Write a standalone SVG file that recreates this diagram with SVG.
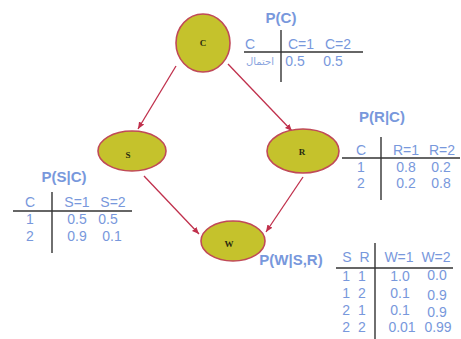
<svg xmlns="http://www.w3.org/2000/svg" width="461" height="339" viewBox="0 0 461 339">
<style>
.node{fill:#c5c22c;stroke:#c04a58;stroke-width:1.6}
.nl{font-family:"Liberation Serif",serif;font-weight:bold;font-size:9px;fill:#2a2a10;text-anchor:middle}
.edge{stroke:#c0304c;stroke-width:1.3;fill:none;marker-end:url(#ah)}
.t{font-family:"Liberation Sans",Arial,sans-serif;font-size:14px;fill:#7898dc;text-anchor:middle}
.sr{word-spacing:4px}
.ti{font-family:"Liberation Sans",Arial,sans-serif;font-size:15px;font-weight:bold;fill:#7898dc;text-anchor:middle}
.ar{font-family:"DejaVu Sans",sans-serif;font-size:10px;fill:#8aa4de;text-anchor:middle}
.ln{stroke:#333;stroke-width:1.4}
</style>
<defs>
<marker id="ah" markerWidth="8" markerHeight="8" refX="7" refY="4" orient="auto" markerUnits="userSpaceOnUse">
<path d="M0,1 L7,4 L0,7 Z" fill="#c0304c"/>
</marker>
</defs>
<rect width="461" height="339" fill="#ffffff"/>
<g id="connectors">
<line class="edge" x1="176" y1="66" x2="138" y2="129"/>
<line class="edge" x1="228" y1="64" x2="292" y2="131"/>
<line class="edge" x1="144" y1="176" x2="199" y2="234"/>
<line class="edge" x1="303" y1="177" x2="266" y2="232"/>
</g>
<g id="node-C"><ellipse class="node" cx="203" cy="43" rx="27" ry="29"/><text class="nl" x="203" y="46">C</text></g>
<g id="node-S"><ellipse class="node" cx="132" cy="151" rx="34" ry="20"/><text class="nl" x="128" y="158">S</text></g>
<g id="node-R"><ellipse class="node" cx="303" cy="151" rx="36" ry="22"/><text class="nl" x="302" y="155">R</text></g>
<g id="node-W"><ellipse class="node" cx="233" cy="241" rx="32" ry="20"/><text class="nl" x="229" y="247">W</text></g>
<g id="table-C">
<text class="ti" x="281" y="23">P(C)</text>
<line class="ln" x1="281" y1="30" x2="281" y2="82"/>
<line class="ln" x1="244" y1="52" x2="363" y2="52"/>
<text class="t" x="250" y="49">C</text>
<text class="t" x="301" y="49">C=1</text>
<text class="t" x="338" y="49">C=2</text>
<text class="ar" x="260" y="65">احتمال</text>
<text class="t" x="295" y="66">0.5</text>
<text class="t" x="333" y="66">0.5</text>
</g>
<g id="table-R">
<text class="ti" x="382" y="122">P(R|C)</text>
<line class="ln" x1="381" y1="137" x2="381" y2="200"/>
<line class="ln" x1="342" y1="158" x2="460" y2="158"/>
<text class="t" x="361" y="155">C</text>
<text class="t" x="406" y="155">R=1</text>
<text class="t" x="442" y="155">R=2</text>
<text class="t" x="361" y="172">1</text>
<text class="t" x="406" y="172">0.8</text>
<text class="t" x="441" y="172">0.2</text>
<text class="t" x="361" y="188">2</text>
<text class="t" x="406" y="188">0.2</text>
<text class="t" x="441" y="188">0.8</text>
</g>
<g id="table-S">
<text class="ti" x="64" y="182">P(S|C)</text>
<line class="ln" x1="52" y1="192" x2="52" y2="253"/>
<line class="ln" x1="13" y1="211" x2="132" y2="211"/>
<text class="t" x="30" y="207">C</text>
<text class="t" x="77" y="207">S=1</text>
<text class="t" x="113" y="207">S=2</text>
<text class="t" x="30" y="224">1</text>
<text class="t" x="77" y="224">0.5</text>
<text class="t" x="108" y="224">0.5</text>
<text class="t" x="30" y="241">2</text>
<text class="t" x="77" y="241">0.9</text>
<text class="t" x="112" y="241">0.1</text>
</g>
<g id="table-W">
<text class="ti" x="291" y="265">P(W|S,R)</text>
<line class="ln" x1="375" y1="243" x2="375" y2="339"/>
<line class="ln" x1="336" y1="268" x2="453" y2="268"/>
<text class="t sr" x="356" y="262">S R</text>
<text class="t" x="399" y="262">W=1</text>
<text class="t" x="436" y="262">W=2</text>
<text class="t sr" x="354" y="281">1 1</text>
<text class="t" x="400" y="281">1.0</text>
<text class="t" x="437" y="280">0.0</text>
<text class="t sr" x="354" y="298">1 2</text>
<text class="t" x="400" y="298">0.1</text>
<text class="t" x="437" y="300">0.9</text>
<text class="t sr" x="354" y="315">2 1</text>
<text class="t" x="400" y="315">0.1</text>
<text class="t" x="437" y="317">0.9</text>
<text class="t sr" x="354" y="332">2 2</text>
<text class="t" x="402" y="332">0.01</text>
<text class="t" x="438" y="332">0.99</text>
</g>
</svg>
